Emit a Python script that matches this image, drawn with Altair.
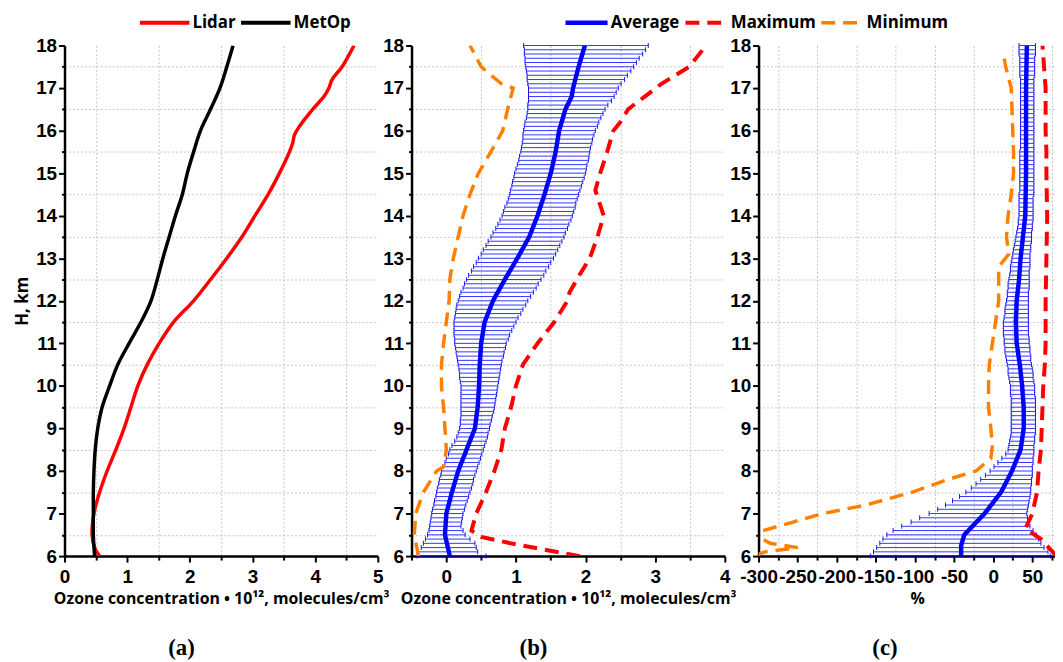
import altair as alt
import pandas as pd

# ---------------- data: panel (a) ----------------
H_METOP = [6.0, 6.5, 7.0, 7.5, 8.0, 8.5, 9.0, 9.5, 10.0, 10.5, 11.0, 11.5, 12.0,
           12.5, 13.0, 13.5, 14.0, 14.5, 15.0, 15.5, 16.0, 16.5, 17.0, 17.5, 18.0]
METOP = [0.48, 0.46, 0.46, 0.46, 0.47, 0.49, 0.53, 0.60, 0.72, 0.85, 1.03, 1.22, 1.38,
         1.48, 1.57, 1.67, 1.77, 1.88, 1.96, 2.06, 2.17, 2.33, 2.48, 2.59, 2.69]

H_LIDAR = [6.0, 6.2, 6.5, 7.0, 7.5, 8.0, 8.5, 9.0, 9.5, 10.0, 10.5, 11.0, 11.5, 12.0,
           12.5, 13.0, 13.5, 14.0, 14.5, 15.0, 15.5, 15.7, 15.9, 16.1, 16.5, 16.8,
           17.0, 17.2, 17.5, 18.0]
LIDAR = [0.56, 0.48, 0.44, 0.47, 0.56, 0.68, 0.82, 0.95, 1.06, 1.17, 1.32, 1.51, 1.74, 2.06,
         2.33, 2.59, 2.83, 3.04, 3.25, 3.43, 3.59, 3.64, 3.67, 3.75, 3.96, 4.14,
         4.22, 4.27, 4.43, 4.62]

# ---------------- data: panel (b) ----------------
H_B_AVG = [6.0, 6.5, 7.0, 7.5, 8.0, 8.5, 9.0, 9.5, 10.0, 10.5, 11.0, 11.5, 12.0,
           12.5, 13.0, 13.5, 14.0, 14.5, 15.0, 15.5, 16.0, 16.5, 16.8, 17.0, 17.5, 18.0]
B_AVG = [0.05, -0.02, 0.00, 0.08, 0.17, 0.29, 0.41, 0.45, 0.47, 0.48, 0.50, 0.55, 0.67,
         0.84, 1.02, 1.19, 1.31, 1.41, 1.50, 1.57, 1.62, 1.71, 1.80, 1.82, 1.90, 1.99]

H_B_MAX = [6.0, 6.15, 6.3, 6.45, 6.6, 7.0, 7.5, 8.0, 8.5, 9.0, 9.5, 10.0, 10.5, 11.0,
           11.5, 12.0, 12.2, 12.6, 13.0, 13.5, 14.0, 14.6, 15.0, 15.5, 16.0, 16.2,
           16.5, 16.8, 17.1, 17.5, 18.0]
B_MAX = [1.92, 1.41, 0.93, 0.50, 0.36, 0.43, 0.57, 0.69, 0.79, 0.84, 0.93, 1.00, 1.10, 1.31,
         1.55, 1.74, 1.77, 1.91, 2.06, 2.17, 2.26, 2.14, 2.21, 2.31, 2.40, 2.50,
         2.61, 2.85, 3.09, 3.49, 3.73]

H_B_MIN = [6.0, 6.5, 7.0, 7.5, 8.0, 8.1, 8.5, 9.0, 9.5, 10.0, 10.5, 11.0, 11.5, 12.0,
           12.5, 13.0, 13.5, 14.0, 14.5, 15.0, 15.5, 16.0, 16.5, 17.0, 17.1, 17.5, 18.0]
B_MIN = [-0.40, -0.46, -0.44, -0.33, -0.14, -0.04, 0.00, -0.02, -0.04, -0.07, -0.07, -0.04,
         0.00, 0.04, 0.05, 0.10, 0.17, 0.24, 0.34, 0.46, 0.64, 0.81, 0.88, 0.96, 0.79, 0.50, 0.34]

# error bars, one per 0.1 km from 6.0 to 18.0 km
H_ERR = [round(6.0 + i / 10, 1) for i in range(121)]
B_LO = [-0.42, -0.40, -0.36, -0.33, -0.30, -0.27, -0.25, -0.24, -0.23, -0.22,
        -0.21, -0.20, -0.18, -0.17, -0.15, -0.14, -0.13, -0.11, -0.10, -0.08,
        -0.07, -0.05, -0.02, 0.00, 0.03, 0.05, 0.08, 0.12, 0.15, 0.17,
        0.19, 0.20, 0.20, 0.21, 0.21, 0.21, 0.21, 0.21, 0.21, 0.21,
        0.21, 0.20, 0.19, 0.19, 0.18, 0.17, 0.16, 0.15, 0.14, 0.13,
        0.12, 0.12, 0.11, 0.11, 0.11, 0.11, 0.12, 0.13, 0.14, 0.15,
        0.17, 0.19, 0.21, 0.24, 0.26, 0.29, 0.32, 0.36, 0.39, 0.43,
        0.46, 0.50, 0.53, 0.57, 0.60, 0.64, 0.67, 0.71, 0.74, 0.77,
        0.80, 0.82, 0.84, 0.87, 0.89, 0.91, 0.92, 0.94, 0.95, 0.97,
        0.98, 1.00, 1.02, 1.04, 1.05, 1.07, 1.08, 1.09, 1.10, 1.10,
        1.11, 1.12, 1.13, 1.15, 1.16, 1.17, 1.17, 1.18, 1.18, 1.18,
        1.18, 1.17, 1.16, 1.16, 1.15, 1.14, 1.13, 1.13, 1.12, 1.12, 1.11]
B_HI = [0.57, 0.45, 0.43, 0.41, 0.34, 0.27, 0.24, 0.21, 0.22, 0.23,
        0.24, 0.26, 0.28, 0.30, 0.32, 0.34, 0.36, 0.38, 0.39, 0.41,
        0.43, 0.45, 0.47, 0.49, 0.51, 0.53, 0.55, 0.57, 0.59, 0.60,
        0.62, 0.63, 0.65, 0.66, 0.68, 0.69, 0.70, 0.71, 0.72, 0.73,
        0.74, 0.75, 0.76, 0.77, 0.78, 0.79, 0.80, 0.82, 0.83, 0.85,
        0.86, 0.89, 0.91, 0.94, 0.97, 1.00, 1.03, 1.07, 1.10, 1.14,
        1.17, 1.21, 1.25, 1.29, 1.32, 1.36, 1.40, 1.43, 1.47, 1.50,
        1.54, 1.57, 1.60, 1.63, 1.66, 1.69, 1.71, 1.74, 1.76, 1.79,
        1.81, 1.83, 1.85, 1.86, 1.88, 1.90, 1.92, 1.94, 1.96, 1.98,
        2.00, 2.01, 2.02, 2.04, 2.05, 2.06, 2.07, 2.09, 2.10, 2.12,
        2.14, 2.17, 2.19, 2.22, 2.25, 2.28, 2.32, 2.37, 2.41, 2.44,
        2.47, 2.51, 2.56, 2.60, 2.65, 2.69, 2.73, 2.77, 2.82, 2.86, 2.90]

# ---------------- data: panel (c) ----------------
H_C_AVG = [6.0, 6.25, 6.5, 6.75, 7.0, 7.5, 8.0, 8.5, 9.0, 9.5, 10.0, 10.5, 11.0, 11.5,
           12.0, 12.5, 13.0, 13.5, 14.0, 15.0, 16.0, 17.0, 18.0]
C_AVG = [-41, -41, -37, -24, -11, 10, 24, 35, 39, 39, 37, 34, 30, 29,
         30, 33, 35, 38, 41, 42, 42, 42, 43]

H_C_MAX = [6.0, 6.2, 6.4, 6.65, 6.8, 7.0, 7.5, 8.0, 8.5, 9.0, 9.5, 10.0, 10.5, 11.0,
           12.0, 13.0, 14.0, 15.0, 15.5, 16.0, 17.0, 17.5, 18.0]
C_MAX = [81, 71, 61, 41, 45, 50, 56, 58, 61, 62, 63, 64, 66, 67,
         67, 68, 69, 68, 68, 67, 67, 65, 63]

H_C_MIN = [6.0, 6.1, 6.2, 6.3, 6.45, 6.52, 6.6, 6.8, 7.0, 7.2, 7.5, 7.8, 8.0, 8.3, 8.6,
           9.0, 9.5, 10.0, 10.5, 11.0, 11.5, 12.0, 12.5, 12.8, 13.1, 13.5, 14.0, 14.5,
           15.0, 15.5, 16.0, 16.5, 17.0, 17.5, 17.8]
C_MIN = [-305, -292, -250, -285, -300, -340, -294, -256, -218, -163, -104, -58, -22, -3, -1,
         -3, -6, -6, -5, -1, 3, 7, 7, 7, 20, 17, 19, 23,
         26, 26, 25, 24, 23, 16, 13]

C_LO = [-157, -153, -149, -145, -141, -136, -128, -117, -105, -94,
        -82, -71, -61, -52, -43, -35, -28, -22, -16, -10,
        -4, 1, 6, 11, 16, 19, 20, 21, 22, 23,
        23, 23, 23, 23, 23, 23, 23, 23, 22, 22,
        22, 21, 20, 19, 19, 18, 17, 16, 15, 15,
        14, 14, 13, 13, 13, 13, 14, 15, 15, 16,
        17, 18, 18, 19, 19, 20, 21, 22, 22, 23,
        24, 25, 26, 27, 28, 29, 30, 31, 32, 32,
        33, 33, 33, 33, 33, 33, 34, 34, 34, 34,
        34, 34, 34, 34, 34, 34, 35, 35, 35, 35,
        35, 35, 35, 35, 35, 35, 35, 35, 35, 35,
        35, 35, 35, 34, 34, 34, 34, 34, 33, 33, 33]
C_HI = [73, 70, 65, 61, 58, 55, 51, 47, 45, 44,
        43, 44, 45, 46, 47, 48, 48, 49, 49, 50,
        50, 50, 51, 51, 52, 52, 52, 53, 53, 54,
        54, 54, 54, 54, 54, 54, 54, 54, 53, 53,
        53, 52, 51, 51, 50, 49, 48, 48, 47, 47,
        46, 46, 45, 45, 45, 45, 45, 45, 45, 45,
        45, 45, 45, 46, 46, 46, 46, 46, 47, 47,
        47, 47, 48, 48, 49, 49, 49, 50, 50, 51,
        51, 51, 51, 51, 51, 52, 52, 52, 52, 52,
        52, 52, 52, 52, 52, 52, 52, 52, 52, 52,
        52, 52, 52, 52, 52, 52, 52, 52, 52, 52,
        52, 52, 52, 53, 53, 53, 53, 53, 54, 54, 54]

Y_TICKS = [6 + i / 2 for i in range(25)]
XA_TICKS = [i / 2 for i in range(11)]
XB_TICKS = [-0.5 + i / 2 for i in range(10)]
XC_TICKS = [-300 + 25 * i for i in range(16)]

OZONE_TITLE = "Ozone concentration \u2022 10\u00b9\u00b2, molecules/cm\u00b3"
SERIES_A = ["Lidar", "MetOp"]
SERIES_B = ["Average", "Maximum", "Minimum"]

# ---------------- tables ----------------
df_a = pd.concat([
    pd.DataFrame({"H": H_LIDAR, "v": LIDAR, "series": "Lidar"}),
    pd.DataFrame({"H": H_METOP, "v": METOP, "series": "MetOp"}),
])
df_b = pd.concat([
    pd.DataFrame({"H": H_B_AVG, "v": B_AVG, "series": "Average"}),
    pd.DataFrame({"H": H_B_MAX, "v": B_MAX, "series": "Maximum"}),
    pd.DataFrame({"H": H_B_MIN, "v": B_MIN, "series": "Minimum"}),
])
df_c = pd.concat([
    pd.DataFrame({"H": H_C_AVG, "v": C_AVG, "series": "Average"}),
    pd.DataFrame({"H": H_C_MAX, "v": C_MAX, "series": "Maximum"}),
    pd.DataFrame({"H": H_C_MIN, "v": C_MIN, "series": "Minimum"}),
])
err_b = pd.DataFrame({"H": H_ERR, "lo": B_LO, "hi": B_HI})
err_c = pd.DataFrame({"H": H_ERR, "lo": C_LO, "hi": C_HI})

# ---------------- styling helpers ----------------
NUM_FONT = "Liberation Sans"
TXT_FONT = "Open Sans"
GRID_COLOR = "#c4c4c4"
W_A, W_B, W_C, HGT = 316, 316, 299, 515


def cond(test, yes, no):
    return {"condition": {"test": test, "value": yes}, "value": no}


def yenc(title=None):
    minor = "datum.value % 1 !== 0"
    kw = dict(values=Y_TICKS, labelExpr="datum.value % 1 === 0 ? '' + datum.value : ''",
              tickSize=cond(minor, 3, 6), gridOpacity=cond(minor, 1, 0), grid=True,
              labelPadding=2)
    if title:
        kw.update(title=title, titlePadding=4)
    else:
        kw.update(title=None)
    return alt.Y("H:Q", scale=alt.Scale(domain=[6, 18], nice=False, zero=False),
                 axis=alt.Axis(**kw))


def xenc(field, domain, ticks, step, title, title_x=None):
    minor = f"datum.value % {step} !== 0"
    extra = {} if title_x is None else {"titleX": title_x}
    return alt.X(field, type="quantitative",
                 scale=alt.Scale(domain=domain, nice=False, zero=False),
                 axis=alt.Axis(values=ticks,
                               labelExpr=f"datum.value % {step} === 0 ? '' + datum.value : ''",
                               tickSize=cond(minor, 4, 6), gridOpacity=cond(minor, 1, 0),
                               grid=True, labelPadding=6, title=title, titlePadding=4,
                               **extra))


def caption(text, dx):
    return alt.TitleParams(text=text, orient="bottom", anchor="middle", frame="group",
                           font="Liberation Serif", fontSize=23, fontWeight="bold",
                           color="black", offset=31, dx=dx)


LEG_COMMON = dict(orient="none", direction="horizontal", title=None, symbolType="stroke",
                  symbolStrokeWidth=4, labelFont=TXT_FONT, labelFontSize=17,
                  labelFontWeight="bold", labelColor="black", labelOffset=1,
                  columnPadding=3, padding=0, gridAlign="none", clipHeight=20)

# ---------------- panel (a) ----------------
panel_a = alt.Chart(df_a).mark_line(strokeWidth=3.5, clip=True, interpolate="catmull-rom").encode(
    x=xenc("v", [0, 5], XA_TICKS, 1, OZONE_TITLE),
    y=yenc("H, km"),
    color=alt.Color("series:N", scale=alt.Scale(domain=SERIES_A, range=["#ff0000", "#000000"]),
                    legend=alt.Legend(legendX=74, legendY=-33, columns=2, symbolSize=2500,
                                      **LEG_COMMON)),
    order=alt.Order("H:Q"),
).properties(width=W_A, height=HGT, title=caption("(a)", -40))


def profile_panel(df, err, domain, ticks, step, title, width, cap, dx, legend, title_x=None):
    xf = lambda f: xenc(f, domain, ticks, step, title, title_x)
    rules = alt.Chart(err).mark_rule(color="#0000ff", strokeWidth=1, opacity=0.8).encode(
        x=xf("lo"), x2="hi", y=yenc())
    cap_lo = alt.Chart(err).mark_tick(orient="vertical", size=5, thickness=1,
                                      color="#0000ff", opacity=0.9).encode(x=xf("lo"), y=yenc())
    cap_hi = alt.Chart(err).mark_tick(orient="vertical", size=5, thickness=1,
                                      color="#0000ff", opacity=0.9).encode(x=xf("hi"), y=yenc())
    if legend:
        leg = alt.Legend(legendX=153, legendY=-33, columns=3, symbolSize=1800, **LEG_COMMON)
    else:
        leg = None
    lines = alt.Chart(df).mark_line(clip=True).encode(
        x=xf("v"), y=yenc(),
        color=alt.Color("series:N",
                        scale=alt.Scale(domain=SERIES_B, range=["#0000ff", "#ff0000", "#ff8000"]),
                        legend=leg),
        strokeDash=alt.StrokeDash("series:N",
                                  scale=alt.Scale(domain=SERIES_B, range=[[1, 0], [14, 8], [14, 8]]),
                                  legend=leg),
        strokeWidth=alt.StrokeWidth("series:N",
                                    scale=alt.Scale(domain=SERIES_B, range=[4.5, 3.5, 3.5]),
                                    legend=None),
        order=alt.Order("H:Q"),
    )
    return alt.layer(rules, cap_lo, cap_hi, lines).properties(
        width=width, height=HGT, title=caption(cap, dx))


panel_b = profile_panel(df_b, err_b, [-0.5, 4], XB_TICKS, 1, OZONE_TITLE, W_B, "(b)", -35, True)
panel_c = profile_panel(df_c, err_c, [-300, 79], XC_TICKS, 50, "%", W_C, "(c)", -22, False,
                        title_x=160)

chart = alt.hconcat(panel_a, panel_b, panel_c, spacing=34, bounds="flush").resolve_scale(
    color="independent", strokeDash="independent", strokeWidth="independent"
).resolve_legend(color="independent", strokeDash="independent").properties(
    padding={"left": 5, "top": 2, "right": 0, "bottom": 0}
).configure_view(stroke=None).configure_axis(
    domainColor="black", domainWidth=2.5, tickColor="black", tickWidth=2,
    labelFont=NUM_FONT, labelFontSize=19, labelFontWeight="bold", labelColor="black",
    labelFlush=False, labelOverlap=False, labelBound=False,
    titleFont=TXT_FONT, titleFontSize=16, titleFontWeight="bold", titleColor="black",
    gridColor=GRID_COLOR, gridDash=[2, 2], gridWidth=1,
).configure_axisY(titleFontSize=17)

chart.save("out.html", embed_options={"renderer": "svg", "actions": False})
